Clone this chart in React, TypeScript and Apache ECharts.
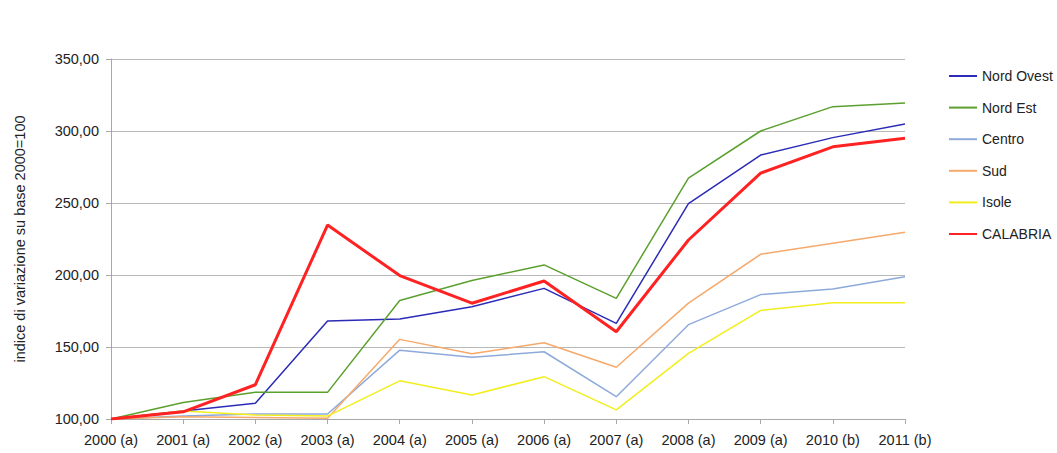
import React, { useEffect, useRef } from "react";
import * as echarts from "echarts";

const categories = [
  "2000 (a)", "2001 (a)", "2002 (a)", "2003 (a)", "2004 (a)", "2005 (a)",
  "2006 (a)", "2007 (a)", "2008 (a)", "2009 (a)", "2010 (b)", "2011 (b)",
];

const nordOvest = [100, 105.5, 111, 168, 169.5, 178, 190.7, 166.4, 249.5, 283.3, 295.4, 304.9];
const nordEst = [100, 111.5, 118.5, 118.5, 182.3, 196.2, 207, 183.8, 267.3, 300, 316.9, 319.4];
const centro = [100, 102, 103.5, 103.5, 147.8, 142.8, 146.7, 115.5, 165.5, 186.4, 190.3, 198.8];
const sud = [100, 101.5, 101, 100.5, 155.3, 145.3, 153, 135.9, 180.5, 214.4, 222, 229.7];
const isole = [100, 105.5, 102.8, 102, 126.5, 116.6, 129.4, 106.3, 145.6, 175.4, 180.8, 180.8];
const calabria = [100, 105, 123.8, 234.7, 199.6, 180.4, 195.8, 160.6, 224.3, 270.8, 289, 295];

const yTicks = { min: 100, max: 350, interval: 50 };

const FONT = "'Liberation Sans', Arial, sans-serif";

export default function App() {
  const ref = useRef<HTMLDivElement>(null);
  useEffect(() => {
    document.body.style.margin = "0";
    const chart = echarts.init(ref.current!, undefined, { renderer: "svg" });
    const mk = (name: string, data: number[], color: string, width: number) => ({
      name,
      type: "line",
      data,
      symbol: "none",
      showSymbol: false,
      lineStyle: { color, width },
      itemStyle: { color },
    });
    chart.setOption({
      animation: false,
      backgroundColor: "#ffffff",
      grid: { left: 111, right: 152, top: 59, bottom: 34, containLabel: false },
      legend: {
        orient: "vertical",
        left: 943,
        top: 64,
        itemWidth: 28,
        itemHeight: 14,
        itemGap: 17.6,
        itemStyle: { opacity: 0 },
        textStyle: { fontFamily: FONT, fontSize: 14, color: "#222" },
        data: ["Nord Ovest", "Nord Est", "Centro", "Sud", "Isole", "CALABRIA"],
      },
      xAxis: {
        type: "category",
        data: categories,
        boundaryGap: false,
        axisLine: { lineStyle: { color: "#a8a8a8", width: 1 } },
        axisTick: { show: true, length: 5, lineStyle: { color: "#a8a8a8" } },
        axisLabel: { fontFamily: FONT, fontSize: 14.5, color: "#222", margin: 13, interval: 0 },
        splitLine: { show: false },
      },
      yAxis: {
        type: "value",
        min: yTicks.min,
        max: yTicks.max,
        interval: yTicks.interval,
        name: "indice di variazione su base 2000=100",
        nameLocation: "middle",
        nameGap: 84,
        nameTextStyle: { fontFamily: FONT, fontSize: 14.5, color: "#222" },
        axisLine: { show: true, lineStyle: { color: "#a8a8a8", width: 1 } },
        axisTick: { show: true, length: 5, lineStyle: { color: "#a8a8a8" } },
        axisLabel: {
          fontFamily: FONT,
          fontSize: 14.5,
          color: "#222",
          margin: 12,
          formatter: (v: number) => v.toFixed(2).replace(".", ","),
        },
        splitLine: { show: true, lineStyle: { color: "#b8b8b8", width: 1.2 } },
      },
      series: [
        mk("Nord Ovest", nordOvest, "#2b2bb8", 1.5),
        mk("Nord Est", nordEst, "#5ba02e", 1.5),
        mk("Centro", centro, "#8eaadb", 1.5),
        mk("Sud", sud, "#f5a96b", 1.5),
        mk("Isole", isole, "#f2ee1e", 1.5),
        mk("CALABRIA", calabria, "#ff2222", 3),
      ],
    });
    return () => chart.dispose();
  }, []);
  return <div ref={ref} style={{ width: 1057, height: 453 }} />;
}
